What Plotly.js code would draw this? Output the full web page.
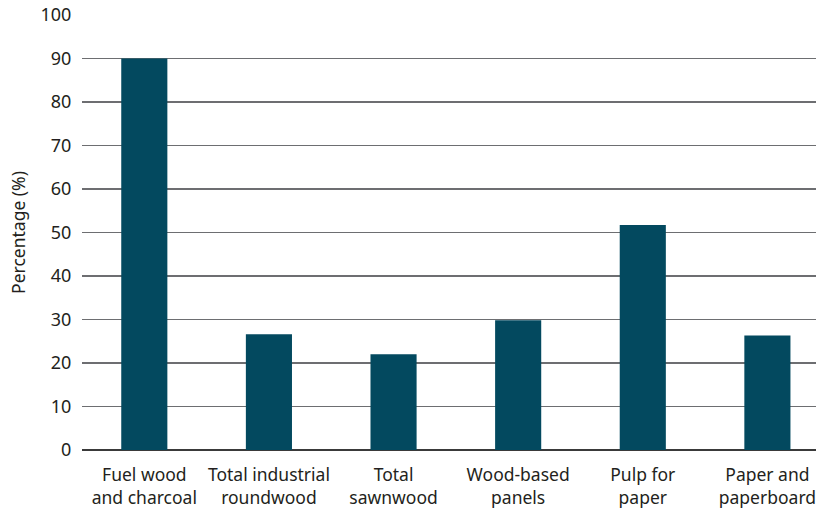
<!DOCTYPE html>
<html>
<head>
<meta charset="utf-8">
<script src="https://cdn.plot.ly/plotly-3.0.1.min.js"></script>
<style>html,body{margin:0;padding:0;background:#fff;}#chart{width:816px;height:512px;}</style>
</head>
<body>
<div id="chart"></div>
<script>
const categories = ["Fuel wood<br>and charcoal", "Total industrial<br>roundwood", "Total<br>sawnwood", "Wood-based<br>panels", "Pulp for<br>paper", "Paper and<br>paperboard"];
const percentages = [90, 26.6, 22.0, 29.8, 51.7, 26.3];
const yTicks = [0, 10, 20, 30, 40, 50, 60, 70, 80, 90, 100];

const trace = {
  type: "bar",
  x: categories,
  y: percentages,
  marker: {color: "#03495f"},
  hoverinfo: "x+y"
};

const layout = {
  width: 816,
  height: 512,
  margin: {l: 82, r: 0, t: 15, b: 62},
  paper_bgcolor: "#fff",
  plot_bgcolor: "#fff",
  bargap: 0.63,
  showlegend: false,
  font: {family: "Noto Sans, Open Sans, sans-serif", size: 17, color: "#231f20"},
  xaxis: {
    type: "category",
    range: [-0.5, 5.39],
    showgrid: false,
    showline: false,
    zeroline: false,
    ticks: "outside",
    ticklen: 9,
    tickcolor: "rgba(0,0,0,0)",
    tickfont: {size: 17.5, color: "#231f20"},
    automargin: false
  },
  yaxis: {
    range: [0, 100],
    tickvals: yTicks,
    ticktext: yTicks.map(String),
    showgrid: true,
    gridcolor: "#6d6e71",
    gridwidth: 1.3,
    zeroline: true,
    zerolinecolor: "#3a3a3a",
    zerolinewidth: 2.5,
    showline: false,
    ticks: "outside",
    ticklen: 6,
    tickcolor: "rgba(0,0,0,0)",
    tickfont: {size: 18, color: "#231f20"},
    title: {text: "Percentage (%)", font: {size: 17.5, color: "#231f20"}, standoff: 10},
    automargin: false
  }
};

Plotly.newPlot("chart", [trace], layout, {displayModeBar: false, staticPlot: true});
</script>
</body>
</html>
